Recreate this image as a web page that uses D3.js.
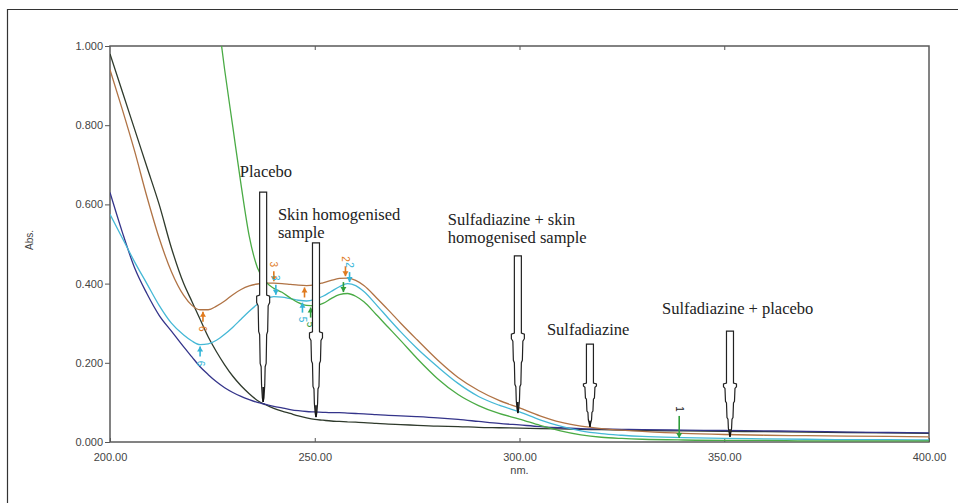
<!DOCTYPE html>
<html>
<head>
<meta charset="utf-8">
<script src="https://cdn.jsdelivr.net/npm/d3@7"></script>
<style>
  body { margin: 0; background: #fff; }
  svg { display: block; }
</style>
</head>
<body>
<div id="chart"></div>
<script>
// wavelength grid (nm) shared by all spectra
const wavelengths = [200, 203, 206, 209, 212, 215, 218, 220, 222, 224, 226, 228, 230, 232, 234, 236, 238, 240, 242, 244,
    246, 248, 250, 252, 254, 256, 258, 260, 262, 265, 268, 271, 275, 280, 285, 290, 295, 300, 305, 310,
    315, 320, 325, 330, 340, 350, 360, 370, 380, 390, 400];

// absorbance
const blackAbs = [0.98, 0.885, 0.79, 0.695, 0.60, 0.49, 0.40, 0.355, 0.31, 0.265, 0.228, 0.195, 0.166, 0.142, 0.122, 0.105, 0.094, 0.085, 0.078, 0.072,
    0.066, 0.061, 0.057, 0.055, 0.053, 0.052, 0.051, 0.05, 0.049, 0.047, 0.045, 0.044, 0.042, 0.04, 0.039, 0.037, 0.036, 0.035, 0.034, 0.033,
    0.032, 0.031, 0.03, 0.029, 0.028, 0.027, 0.026, 0.025, 0.024, 0.023, 0.022];
const navyAbs = [0.63, 0.53, 0.44, 0.375, 0.32, 0.28, 0.24, 0.215, 0.19, 0.17, 0.152, 0.137, 0.125, 0.115, 0.107, 0.1, 0.095, 0.09, 0.086, 0.082,
    0.079, 0.077, 0.076, 0.075, 0.074, 0.074, 0.073, 0.072, 0.071, 0.069, 0.067, 0.066, 0.064, 0.061, 0.057, 0.052, 0.047, 0.043, 0.039, 0.036,
    0.034, 0.033, 0.032, 0.031, 0.03, 0.029, 0.028, 0.027, 0.025, 0.024, 0.023];
const brownAbs = [0.94, 0.84, 0.735, 0.62, 0.515, 0.43, 0.37, 0.345, 0.334, 0.334, 0.343, 0.356, 0.372, 0.385, 0.394, 0.399, 0.401, 0.401, 0.40, 0.398,
    0.396, 0.395, 0.397, 0.402, 0.408, 0.413, 0.414, 0.408, 0.395, 0.365, 0.333, 0.300, 0.258, 0.207, 0.163, 0.13, 0.105, 0.086, 0.066, 0.05,
    0.04, 0.034, 0.03, 0.027, 0.022, 0.019, 0.017, 0.016, 0.015, 0.014, 0.013];
const cyanAbs = [0.575, 0.515, 0.455, 0.40, 0.345, 0.30, 0.27, 0.255, 0.246, 0.248, 0.257, 0.272, 0.29, 0.31, 0.33, 0.348, 0.36, 0.367, 0.366, 0.362,
    0.358, 0.356, 0.36, 0.368, 0.38, 0.392, 0.40, 0.395, 0.38, 0.347, 0.312, 0.278, 0.236, 0.19, 0.148, 0.115, 0.093, 0.076, 0.056, 0.04,
    0.028, 0.021, 0.017, 0.014, 0.011, 0.009, 0.008, 0.007, 0.006, 0.006, 0.005];
const greenAbs = [null, null, null, null, null, null, null, null, null, null, 1.10, 0.94, 0.795, 0.65, 0.52, 0.44, 0.405, 0.388, 0.378, 0.364,
    0.352, 0.345, 0.344, 0.35, 0.362, 0.372, 0.375, 0.368, 0.354, 0.322, 0.289, 0.256, 0.211, 0.16, 0.12, 0.092, 0.072, 0.058, 0.042, 0.028,
    0.018, 0.012, 0.009, 0.007, 0.005, 0.004, 0.004, 0.003, 0.003, 0.003, 0.003];

const seriesNames = ["black", "navy", "brown", "cyan", "green"];
const seriesValues = [blackAbs, navyAbs, brownAbs, cyanAbs, greenAbs];

// peak pick markers
const markerSeries = ["brown", "brown", "brown", "brown", "cyan", "cyan", "cyan", "cyan", "green", "green", "green"];
const markerNm = [240, 257.5, 247.5, 222.7, 240.5, 258.5, 247, 222, 257, 249, 339];
const markerText = ["3", "2", "", "6", "3", "2", "5", "6", "", "5", "1"];
const markerKind = ["peak", "peak", "valley", "valley", "peak", "peak", "valley", "valley", "peak", "valley", "peak"];

// callouts: label lines, arrow tip, shaft step and top (in nm / Abs.)
const calloutLabels = [["Placebo"], ["Skin homogenised", "sample"], ["Sulfadiazine + skin", "homogenised sample"],
    ["Sulfadiazine"], ["Sulfadiazine + placebo"]];
const calloutTipNm = [237.4, 250.3, 299.6, 317.2, 351.4];
const calloutTipAbs = [0.101, 0.063, 0.073, 0.038, 0.013];
const calloutStepAbs = [0.371, 0.278, 0.275, 0.149, 0.149];
const calloutTopAbs = [0.631, 0.503, 0.470, 0.247, 0.280];
const calloutTextNm = [231.7, 241.0, 282.5, 306.7, 334.8];
const calloutTextAbs = [0.669, 0.561, 0.548, 0.270, 0.323];

const yTicks = [0, 0.2, 0.4, 0.6, 0.8, 1.0];
const xTicks = [200, 250, 300, 350, 400];

function drawChart(){
    let W = 958, H = 503;
    let colors = {"black": "#2f3a2c", "navy": "#34348a", "brown": "#b07345", "cyan": "#45b8d6", "green": "#4aab45"};
    let markColors = {"brown": "#e07a1e", "cyan": "#35b5d8", "green": "#2f9e3a"};

    let svg = d3.select("#chart").append("svg")
        .attr("width", W)
        .attr("height", H);

    let x = d3.scaleLinear().domain([200, 400]).range([110, 929]);
    let y = d3.scaleLinear().domain([0, 1]).range([442, 46]);

    // outer border of the figure (left and top edges visible)
    svg.append("path")
        .attr("d", "M7.5," + H + "V9.5H" + W)
        .attr("fill", "none")
        .attr("stroke", "#333")
        .attr("stroke-width", 1.2);

    svg.append("clipPath").attr("id", "plotClip")
        .append("rect")
        .attr("x", x(200)).attr("y", y(1))
        .attr("width", x(400) - x(200)).attr("height", y(0) - y(1));

    // axes
    let yAxis = d3.axisLeft(y).tickValues(yTicks).tickFormat(d3.format(".3f")).tickSize(5).tickPadding(2);
    let gy = svg.append("g").attr("transform", "translate(" + x(200) + ",0)").call(yAxis);
    let xAxis = d3.axisBottom(x).tickValues(xTicks).tickFormat(d3.format(".2f")).tickSize(-4).tickPadding(11);
    let gx = svg.append("g").attr("transform", "translate(0," + y(0) + ")").call(xAxis);
    let xTop = d3.axisTop(x).tickValues(xTicks.slice(1, -1)).tickFormat("").tickSize(-4);
    let gt = svg.append("g").attr("transform", "translate(0," + y(1) + ")").call(xTop);

    [gx, gy, gt].forEach(g => {
        g.select(".domain").remove();
        g.selectAll(".tick line").attr("stroke", "#555");
        g.selectAll("text")
            .style("font-family", "'Liberation Sans', Arial, sans-serif")
            .style("font-size", "11px")
            .attr("fill", "#444");
    });

    // frame
    svg.append("rect")
        .attr("x", x(200)).attr("y", y(1))
        .attr("width", x(400) - x(200)).attr("height", y(0) - y(1))
        .attr("fill", "none")
        .attr("stroke", "#5a5a5a")
        .attr("stroke-width", 1.5);

    svg.append("text")
        .attr("transform", "translate(33," + ((y(0) + y(1)) / 2 - 4) + ") rotate(-90)")
        .attr("text-anchor", "middle")
        .style("font-family", "'Liberation Sans', Arial, sans-serif")
        .style("font-size", "10px")
        .attr("fill", "#444")
        .text("Abs.");

    svg.append("text")
        .attr("x", (x(200) + x(400)) / 2)
        .attr("y", 474)
        .attr("text-anchor", "middle")
        .style("font-family", "'Liberation Sans', Arial, sans-serif")
        .style("font-size", "11px")
        .attr("fill", "#444")
        .text("nm.");

    // spectra
    let line = d3.line()
        .defined(d => d[1] !== null)
        .x(d => x(d[0]))
        .y(d => y(d[1]))
        .curve(d3.curveMonotoneX);

    let plot = svg.append("g").attr("clip-path", "url(#plotClip)");
    seriesNames.forEach((name, i) => {
        let pts = wavelengths.map((w, j) => [w, seriesValues[i][j]]);
        plot.append("path")
            .datum(pts)
            .attr("d", line)
            .attr("fill", "none")
            .attr("stroke", colors[name])
            .attr("stroke-width", 1.3);
    });

    // peak / valley markers
    let valueAt = (name, nm) => {
        let vals = seriesValues[seriesNames.indexOf(name)];
        let interp = d3.scaleLinear().domain(wavelengths).range(vals);
        return interp(nm);
    };
    markerNm.forEach((nm, i) => {
        let name = markerSeries[i];
        let c = markColors[name];
        let cx = x(nm), cy = y(valueAt(name, nm));
        let peak = markerKind[i] === "peak";
        let len = (nm > 330) ? 24 : 12;
        let s = peak ? -1 : 1;   // peak: arrow from above, valley: from below
        let g = svg.append("g");
        g.append("line")
            .attr("x1", cx).attr("x2", cx)
            .attr("y1", cy + s * 2).attr("y2", cy + s * len)
            .attr("stroke", c).attr("stroke-width", 1.6);
        g.append("path")
            .attr("d", "M" + cx + "," + (cy + s * 2) + "L" + (cx - 3) + "," + (cy + s * 7) + "L" + (cx + 3) + "," + (cy + s * 7) + "Z")
            .attr("fill", c);
        if (markerText[i] !== ""){
            let ty = cy + s * (len + 7);
            g.append("text")
                .attr("transform", "translate(" + cx + "," + ty + ") rotate(90)")
                .attr("text-anchor", "middle")
                .attr("dy", "0.35em")
                .style("font-family", "'Liberation Sans', Arial, sans-serif")
                .style("font-size", "10px")
                .attr("fill", nm > 330 ? "#222" : c)
                .text(markerText[i]);
        }
    });

    // pencil-shaped callout arrows: thin shaft, shoulder, stepped taper
    calloutLabels.forEach((lines, i) => {
        let cx = x(calloutTipNm[i]);
        let yt = y(calloutTipAbs[i]);
        let ys = y(calloutStepAbs[i]);
        let ytop = y(calloutTopAbs[i]);
        let L = yt - ys;
        let half = [
            [3.5, ytop], [3.5, ys], [6.5, ys + 1], [6.5, ys + 0.07 * L], [5, ys + 0.1 * L],
            [4.5, ys + 0.34 * L], [3.5, ys + 0.37 * L], [3, ys + 0.64 * L], [2, ys + 0.67 * L],
            [1.6, ys + 0.84 * L], [0.8, yt - 4], [0, yt]
        ];
        let pts = half.map(p => [cx + p[0], p[1]])
            .concat(half.slice(0, -1).reverse().map(p => [cx - p[0], p[1]]));
        svg.append("path")
            .attr("d", d3.line()(pts) + "Z")
            .attr("fill", "#fff")
            .attr("stroke", "#222")
            .attr("stroke-width", 1.2);
        svg.append("line")
            .attr("x1", cx).attr("x2", cx)
            .attr("y1", ys + 0.86 * L).attr("y2", yt)
            .attr("stroke", "#111").attr("stroke-width", 1.6);

        let t = svg.append("text")
            .attr("x", x(calloutTextNm[i]))
            .attr("y", y(calloutTextAbs[i]))
            .style("font-family", "'Liberation Serif', 'Times New Roman', serif")
            .style("font-size", "16.5px")
            .attr("fill", "#222");
        lines.forEach((s, k) => {
            t.append("tspan")
                .attr("x", x(calloutTextNm[i]))
                .attr("dy", k === 0 ? 0 : 18)
                .text(s);
        });
    });
}

drawChart();
</script>
</body>
</html>
